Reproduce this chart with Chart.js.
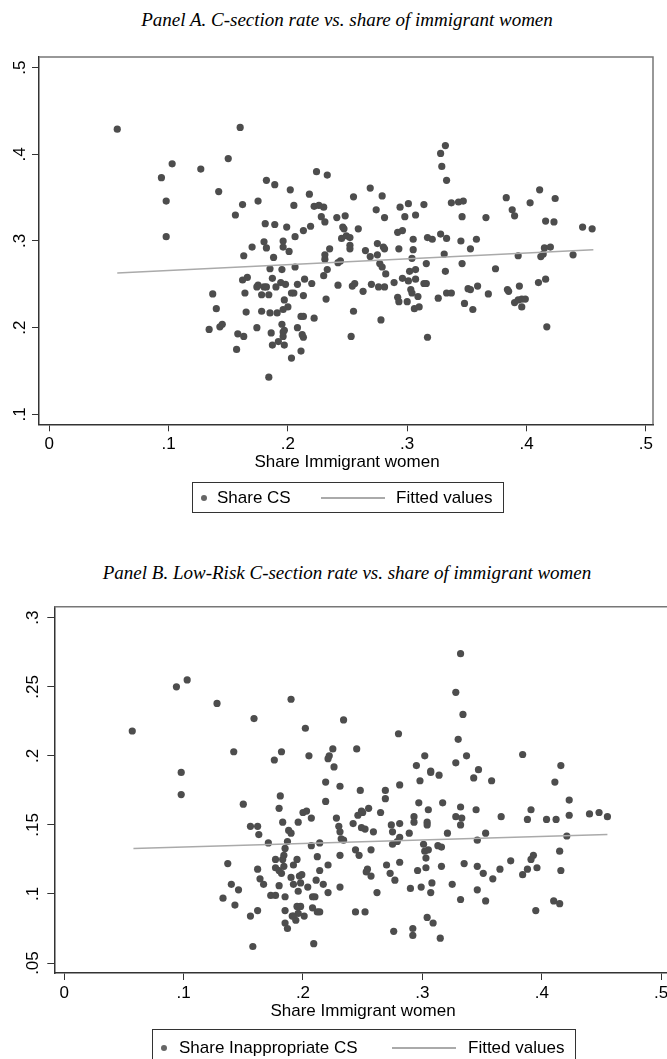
<!DOCTYPE html>
<html>
<head>
<meta charset="utf-8">
<script src="https://cdn.jsdelivr.net/npm/chart.js@4.4.0/dist/chart.umd.min.js"></script>
<style>
  body { margin: 0; width: 667px; height: 1059px; overflow: hidden; background: #fff; position: relative;
         font-family: "Liberation Sans", Arial, sans-serif; color: #000; }
  .ttl { position: absolute; left: 0; width: 694px; text-align: center; font-family: "Liberation Serif", serif;
         font-style: italic; font-size: 19px; line-height: 22px; }
  .cv { position: absolute; left: 0; }
  .xt { position: absolute; font-size: 17px; line-height: 20px; text-align: center; width: 300px; }
  .leg { position: absolute; border: 1px solid #333; box-sizing: border-box; font-size: 17px; }
  .leg span { position: absolute; line-height: 20px; white-space: nowrap; }
  .leg .dot { width: 6px; height: 6px; border-radius: 50%; background: #666; }
  .leg .ln { height: 2px; background: #aaa; }
</style>
</head>
<body>

<div class="ttl" style="top:9px">Panel A. C-section rate vs. share of immigrant women</div>
<canvas id="chartA" class="cv" style="top:40px" width="667" height="440"></canvas>
<div class="xt" style="left:197px;top:452px">Share Immigrant women</div>
<div class="leg" style="left:192px;top:482px;width:312px;height:31px">
  <span class="dot" style="left:8px;top:12px"></span>
  <span style="left:24px;top:5px">Share CS</span>
  <span class="ln" style="left:128px;top:14px;width:64px"></span>
  <span style="left:203px;top:5px">Fitted values</span>
</div>

<div class="ttl" style="top:562px">Panel B. Low-Risk C-section rate vs. share of immigrant women</div>
<canvas id="chartB" class="cv" style="top:590px" width="690" height="469"></canvas>
<div class="xt" style="left:213px;top:1001px">Share Immigrant women</div>
<div class="leg" style="left:152px;top:1029px;width:424px;height:33px">
  <span class="dot" style="left:8px;top:15px"></span>
  <span style="left:26px;top:8px">Share Inappropriate CS</span>
  <span class="ln" style="left:239px;top:17px;width:64px"></span>
  <span style="left:315px;top:8px">Fitted values</span>
</div>

<script>
// tick values
const xTickVals = [0, 0.1, 0.2, 0.3, 0.4, 0.5];
const yTicksA = [0.1, 0.2, 0.3, 0.4, 0.5];
const yTicksB = [0.05, 0.1, 0.15, 0.2, 0.25, 0.3];

// Panel A: share immigrant women vs share CS
const shareImmA = [
  0.057, 0.160, 0.094, 0.103, 0.127, 0.150, 0.098, 0.142, 0.098, 0.156, 0.162, 0.182, 0.189, 0.175, 0.202,
  0.205, 0.218, 0.224, 0.233, 0.222, 0.226, 0.230, 0.228, 0.231, 0.241, 0.181, 0.189, 0.199, 0.213, 0.219,
  0.206, 0.180, 0.196, 0.196, 0.182, 0.170, 0.201, 0.188, 0.163, 0.235, 0.231, 0.231, 0.242, 0.185, 0.195,
  0.206, 0.233, 0.166, 0.162, 0.187, 0.194, 0.198, 0.208, 0.214, 0.220, 0.230, 0.242, 0.175, 0.180, 0.182,
  0.190, 0.328, 0.332, 0.329, 0.333, 0.269, 0.255, 0.279, 0.248, 0.274, 0.281, 0.294, 0.301, 0.298, 0.307,
  0.314, 0.337, 0.343, 0.347, 0.346, 0.366, 0.383, 0.388, 0.390, 0.403, 0.411, 0.424, 0.416, 0.423, 0.447,
  0.455, 0.246, 0.247, 0.245, 0.249, 0.252, 0.259, 0.252, 0.252, 0.244, 0.265, 0.269, 0.275, 0.280, 0.281,
  0.275, 0.277, 0.279, 0.282, 0.293, 0.292, 0.296, 0.305, 0.305, 0.304, 0.307, 0.302, 0.316, 0.317, 0.321,
  0.328, 0.333, 0.331, 0.332, 0.346, 0.345, 0.358, 0.353, 0.374, 0.393, 0.412, 0.415, 0.420, 0.414, 0.439,
  0.296, 0.301, 0.307, 0.289, 0.314, 0.316, 0.254, 0.256, 0.270, 0.281, 0.394, 0.410, 0.416, 0.351, 0.359,
  0.384, 0.137, 0.140, 0.134, 0.143, 0.145, 0.164, 0.165, 0.158, 0.163, 0.157, 0.174, 0.178, 0.185, 0.191,
  0.195, 0.186, 0.196, 0.197, 0.196, 0.187, 0.192, 0.197, 0.203, 0.184, 0.208, 0.212, 0.213, 0.211, 0.211,
  0.213, 0.222, 0.197, 0.200, 0.196, 0.205, 0.213, 0.232, 0.253, 0.255, 0.263, 0.278, 0.292, 0.293, 0.300,
  0.306, 0.310, 0.309, 0.317, 0.326, 0.333, 0.337, 0.348, 0.355, 0.385, 0.390, 0.393, 0.396, 0.399, 0.396,
  0.417, 0.353, 0.368, 0.276, 0.174, 0.178, 0.184, 0.203, 0.303, 0.304
];
const shareCS = [
  0.429, 0.431, 0.373, 0.389, 0.383, 0.395, 0.346, 0.357, 0.305, 0.330, 0.342, 0.370, 0.365, 0.346, 0.359,
  0.341, 0.354, 0.380, 0.376, 0.340, 0.341, 0.339, 0.328, 0.322, 0.327, 0.320, 0.319, 0.316, 0.312, 0.317,
  0.305, 0.299, 0.300, 0.293, 0.292, 0.293, 0.288, 0.281, 0.283, 0.291, 0.284, 0.279, 0.275, 0.268, 0.267,
  0.270, 0.267, 0.258, 0.255, 0.257, 0.252, 0.250, 0.250, 0.256, 0.251, 0.260, 0.249, 0.249, 0.247, 0.247,
  0.247, 0.401, 0.410, 0.386, 0.370, 0.361, 0.351, 0.352, 0.329, 0.336, 0.327, 0.339, 0.343, 0.328, 0.330,
  0.342, 0.344, 0.345, 0.346, 0.328, 0.327, 0.350, 0.336, 0.329, 0.344, 0.359, 0.349, 0.323, 0.322, 0.316,
  0.314, 0.316, 0.314, 0.303, 0.306, 0.304, 0.314, 0.295, 0.291, 0.277, 0.289, 0.282, 0.297, 0.293, 0.291,
  0.284, 0.274, 0.270, 0.262, 0.291, 0.310, 0.312, 0.302, 0.290, 0.280, 0.267, 0.265, 0.274, 0.304, 0.302,
  0.308, 0.303, 0.285, 0.265, 0.274, 0.300, 0.302, 0.291, 0.268, 0.283, 0.282, 0.292, 0.293, 0.285, 0.284,
  0.257, 0.254, 0.256, 0.252, 0.251, 0.251, 0.248, 0.251, 0.250, 0.247, 0.248, 0.252, 0.256, 0.245, 0.248,
  0.244, 0.239, 0.222, 0.198, 0.201, 0.204, 0.240, 0.218, 0.193, 0.190, 0.175, 0.200, 0.219, 0.217, 0.217,
  0.204, 0.194, 0.195, 0.197, 0.190, 0.180, 0.184, 0.180, 0.165, 0.143, 0.200, 0.192, 0.189, 0.173, 0.213,
  0.213, 0.211, 0.232, 0.224, 0.221, 0.240, 0.237, 0.233, 0.190, 0.219, 0.242, 0.209, 0.235, 0.230, 0.230,
  0.222, 0.224, 0.236, 0.189, 0.234, 0.240, 0.240, 0.228, 0.221, 0.242, 0.229, 0.232, 0.233, 0.233, 0.224,
  0.201, 0.244, 0.239, 0.247, 0.247, 0.238, 0.238, 0.240, 0.244, 0.240
];
const fitAx = [0.057, 0.456];
const fitAy = [0.263, 0.290];

// Panel B: share immigrant women vs share inappropriate CS
const shareImmB = [
  0.057, 0.094, 0.103, 0.128, 0.159, 0.190, 0.202, 0.234, 0.142, 0.182, 0.176, 0.205, 0.225, 0.222, 0.221,
  0.226, 0.245, 0.098, 0.098, 0.332, 0.328, 0.334, 0.280, 0.330, 0.302, 0.295, 0.328, 0.337, 0.384, 0.416,
  0.307, 0.347, 0.219, 0.231, 0.248, 0.269, 0.269, 0.281, 0.298, 0.307, 0.314, 0.343, 0.358, 0.411, 0.219,
  0.297, 0.317, 0.332, 0.345, 0.305, 0.423, 0.391, 0.366, 0.388, 0.404, 0.412, 0.423, 0.440, 0.448, 0.455,
  0.228, 0.249, 0.255, 0.246, 0.250, 0.265, 0.328, 0.333, 0.332, 0.293, 0.293, 0.304, 0.304, 0.281, 0.274,
  0.242, 0.230, 0.231, 0.249, 0.252, 0.259, 0.275, 0.281, 0.289, 0.321, 0.353, 0.232, 0.234, 0.214, 0.275,
  0.279, 0.301, 0.313, 0.316, 0.346, 0.421, 0.244, 0.257, 0.302, 0.305, 0.247, 0.231, 0.303, 0.415, 0.374,
  0.393, 0.391, 0.388, 0.396, 0.384, 0.221, 0.270, 0.281, 0.296, 0.303, 0.316, 0.335, 0.346, 0.351, 0.365,
  0.359, 0.416, 0.254, 0.253, 0.257, 0.273, 0.277, 0.214, 0.217, 0.221, 0.231, 0.262, 0.290, 0.299, 0.308,
  0.307, 0.325, 0.346, 0.332, 0.353, 0.410, 0.415, 0.395, 0.244, 0.252, 0.304, 0.309, 0.276, 0.292, 0.292,
  0.315, 0.214, 0.150, 0.181, 0.180, 0.183, 0.207, 0.196, 0.200, 0.203, 0.156, 0.162, 0.163, 0.188, 0.190,
  0.171, 0.187, 0.207, 0.185, 0.184, 0.183, 0.177, 0.195, 0.192, 0.184, 0.177, 0.180, 0.182, 0.212, 0.137,
  0.162, 0.164, 0.167, 0.140, 0.146, 0.133, 0.143, 0.173, 0.177, 0.180, 0.185, 0.190, 0.197, 0.199, 0.198,
  0.192, 0.204, 0.211, 0.196, 0.195, 0.198, 0.196, 0.192, 0.194, 0.191, 0.201, 0.208, 0.210, 0.208, 0.212,
  0.185, 0.162, 0.156, 0.185, 0.187, 0.158, 0.209
];
const shareInapp = [
  0.218, 0.250, 0.255, 0.238, 0.227, 0.241, 0.220, 0.226, 0.203, 0.203, 0.197, 0.200, 0.205, 0.200, 0.198,
  0.192, 0.205, 0.188, 0.172, 0.274, 0.246, 0.230, 0.216, 0.212, 0.200, 0.193, 0.195, 0.200, 0.201, 0.193,
  0.189, 0.190, 0.181, 0.178, 0.175, 0.175, 0.169, 0.179, 0.182, 0.188, 0.186, 0.184, 0.182, 0.181, 0.167,
  0.166, 0.166, 0.163, 0.161, 0.161, 0.168, 0.161, 0.156, 0.154, 0.154, 0.154, 0.157, 0.158, 0.159, 0.156,
  0.155, 0.160, 0.162, 0.157, 0.159, 0.159, 0.156, 0.155, 0.150, 0.156, 0.152, 0.152, 0.150, 0.151, 0.150,
  0.151, 0.149, 0.145, 0.148, 0.147, 0.145, 0.145, 0.141, 0.144, 0.144, 0.144, 0.140, 0.139, 0.137, 0.136,
  0.138, 0.136, 0.135, 0.134, 0.139, 0.142, 0.132, 0.132, 0.131, 0.132, 0.128, 0.128, 0.126, 0.131, 0.124,
  0.128, 0.125, 0.118, 0.119, 0.114, 0.121, 0.121, 0.123, 0.117, 0.119, 0.120, 0.122, 0.120, 0.115, 0.118,
  0.111, 0.117, 0.118, 0.116, 0.113, 0.115, 0.110, 0.117, 0.107, 0.101, 0.105, 0.101, 0.104, 0.105, 0.108,
  0.101, 0.107, 0.103, 0.096, 0.095, 0.095, 0.093, 0.088, 0.087, 0.087, 0.083, 0.079, 0.073, 0.075, 0.070,
  0.068, 0.087, 0.165, 0.171, 0.162, 0.152, 0.155, 0.152, 0.159, 0.160, 0.149, 0.149, 0.143, 0.146, 0.144,
  0.137, 0.138, 0.135, 0.133, 0.128, 0.125, 0.125, 0.125, 0.121, 0.120, 0.119, 0.117, 0.115, 0.127, 0.122,
  0.118, 0.111, 0.107, 0.107, 0.103, 0.097, 0.092, 0.099, 0.099, 0.106, 0.098, 0.112, 0.113, 0.114, 0.108,
  0.107, 0.105, 0.110, 0.102, 0.091, 0.091, 0.086, 0.084, 0.081, 0.084, 0.084, 0.098, 0.098, 0.090, 0.087,
  0.088, 0.088, 0.084, 0.079, 0.075, 0.062, 0.064
];
const fitBx = [0.058, 0.455];
const fitBy = [0.133, 0.143];

const dotColor = '#4d4d4d';
const fitColor = '#aaaaaa';
const axisColor = '#333333';
const frameColor = '#777777';

function fmt(v) {
  return String(v).replace(/^0(?=\.)/, '');
}

// Stata-style: rotated y labels, grey frame on top/right
const stataPlugin = {
  id: 'stata',
  beforeDatasetsDraw(chart) {
    const a = chart.chartArea;
    const ctx = chart.ctx;
    ctx.save();
    ctx.strokeStyle = frameColor;
    ctx.lineWidth = 1.5;
    ctx.beginPath();
    ctx.moveTo(a.left, a.top);
    ctx.lineTo(a.right, a.top);
    ctx.lineTo(a.right, a.bottom);
    ctx.stroke();
    ctx.restore();
  },
  afterDraw(chart) {
    const s = chart.scales.y;
    const ctx = chart.ctx;
    const off = chart.options.plugins.stata.labelOffset;
    ctx.save();
    ctx.fillStyle = '#000';
    ctx.font = '17px "Liberation Sans", Arial, sans-serif';
    ctx.textAlign = 'center';
    ctx.textBaseline = 'middle';
    s.ticks.forEach(t => {
      const py = s.getPixelForValue(t.value);
      ctx.save();
      ctx.translate(s.right - off, py);
      ctx.rotate(-Math.PI / 2);
      ctx.fillText(fmt(t.value), 0, 0);
      ctx.restore();
    });
    ctx.restore();
  }
};

function makePanel(id, xs, ys, fx, fy, yTicks, yMin, yMax, xMin, xMax, pad, yWidth, xHeight, labelOffset) {
  const pts = xs.map((x, i) => ({ x: x, y: ys[i] }));
  const fit = fx.map((x, i) => ({ x: x, y: fy[i] }));
  return new Chart(document.getElementById(id), {
    type: 'scatter',
    data: {
      datasets: [
        {
          type: 'line',
          data: fit,
          borderColor: fitColor,
          borderWidth: 1.5,
          pointRadius: 0,
          fill: false
        },
        {
          data: pts,
          backgroundColor: dotColor,
          borderWidth: 0,
          pointRadius: 3.6
        }
      ]
    },
    options: {
      responsive: false,
      animation: false,
      devicePixelRatio: 1,
      layout: { padding: pad },
      plugins: {
        legend: { display: false },
        tooltip: { enabled: false },
        stata: { labelOffset: labelOffset }
      },
      scales: {
        x: {
          type: 'linear',
          min: xMin,
          max: xMax,
          afterBuildTicks: s => { s.ticks = xTickVals.map(v => ({ value: v })); },
          afterFit: s => { s.height = xHeight; },
          border: { display: true, color: axisColor, width: 1.5 },
          grid: { drawOnChartArea: false, drawTicks: true, tickLength: 7, color: axisColor, lineWidth: 1 },
          ticks: {
            color: '#000',
            padding: 3,
            maxRotation: 0,
            font: { family: '"Liberation Sans", Arial, sans-serif', size: 17 },
            callback: v => fmt(v)
          }
        },
        y: {
          type: 'linear',
          min: yMin,
          max: yMax,
          afterBuildTicks: s => { s.ticks = yTicks.map(v => ({ value: v })); },
          afterFit: s => { s.width = yWidth; },
          border: { display: true, color: axisColor, width: 1.5 },
          grid: { drawOnChartArea: false, drawTicks: true, tickLength: 7, color: axisColor, lineWidth: 1 },
          ticks: { display: false }
        }
      }
    },
    plugins: [stataPlugin]
  });
}

makePanel('chartA', shareImmA, shareCS, fitAx, fitAy, yTicksA, 0.0886, 0.5122, -0.0086, 0.506,
  { top: 17, right: 14, left: 0, bottom: 0 }, 39, 55.7, 19);

makePanel('chartB', shareImmB, shareInapp, fitBx, fitBy, yTicksB, 0.0428, 0.308, -0.0083, 0.506,
  { top: 16.7, right: 21.7, left: 0, bottom: 0 }, 54.3, 86, 21);
</script>
</body>
</html>
